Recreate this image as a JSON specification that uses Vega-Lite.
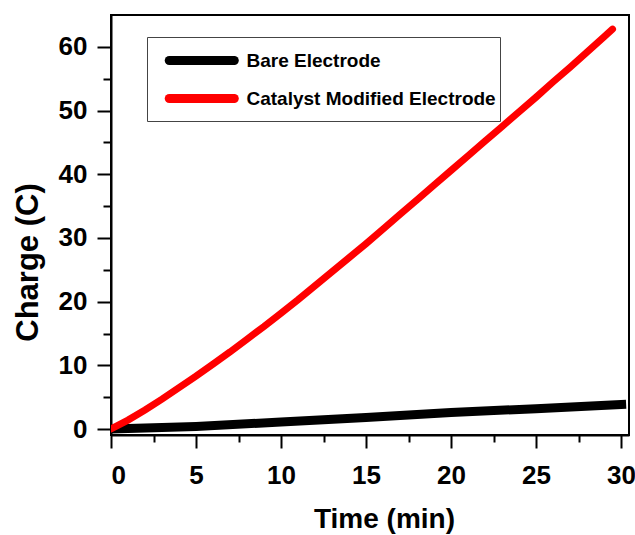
{
  "$schema": "https://vega.github.io/schema/vega-lite/v6.json",
  "autosize": {"type": "none"},
  "width": 518,
  "height": 420,
  "padding": {"left": 111, "top": 15, "right": 6, "bottom": 100},
  "background": "white",
  "config": {
    "font": "Liberation Sans",
    "view": {"stroke": "black", "strokeWidth": 2},
    "axis": {"grid": false, "domainColor": "black", "domainWidth": 2, "tickColor": "black", "tickWidth": 2, "labelColor": "black", "titleColor": "black", "labelFont": "Liberation Sans", "titleFont": "Liberation Sans", "labelFontWeight": "bold", "titleFontWeight": "bold", "labelFontSize": 26}
  },
  "data": {"values": [
    {"t": 0, "q": 0, "s": "Catalyst Modified Electrode"},
    {"t": 1, "q": 1.4, "s": "Catalyst Modified Electrode"},
    {"t": 2, "q": 3.0, "s": "Catalyst Modified Electrode"},
    {"t": 3, "q": 4.7, "s": "Catalyst Modified Electrode"},
    {"t": 4, "q": 6.5, "s": "Catalyst Modified Electrode"},
    {"t": 5, "q": 8.3, "s": "Catalyst Modified Electrode"},
    {"t": 6, "q": 10.2, "s": "Catalyst Modified Electrode"},
    {"t": 7, "q": 12.1, "s": "Catalyst Modified Electrode"},
    {"t": 8, "q": 14.1, "s": "Catalyst Modified Electrode"},
    {"t": 9, "q": 16.1, "s": "Catalyst Modified Electrode"},
    {"t": 10, "q": 18.2, "s": "Catalyst Modified Electrode"},
    {"t": 11, "q": 20.3, "s": "Catalyst Modified Electrode"},
    {"t": 12, "q": 22.5, "s": "Catalyst Modified Electrode"},
    {"t": 13, "q": 24.7, "s": "Catalyst Modified Electrode"},
    {"t": 14, "q": 26.9, "s": "Catalyst Modified Electrode"},
    {"t": 15, "q": 29.1, "s": "Catalyst Modified Electrode"},
    {"t": 16, "q": 31.4, "s": "Catalyst Modified Electrode"},
    {"t": 17, "q": 33.7, "s": "Catalyst Modified Electrode"},
    {"t": 18, "q": 36.0, "s": "Catalyst Modified Electrode"},
    {"t": 19, "q": 38.3, "s": "Catalyst Modified Electrode"},
    {"t": 20, "q": 40.6, "s": "Catalyst Modified Electrode"},
    {"t": 21, "q": 42.9, "s": "Catalyst Modified Electrode"},
    {"t": 22, "q": 45.2, "s": "Catalyst Modified Electrode"},
    {"t": 23, "q": 47.5, "s": "Catalyst Modified Electrode"},
    {"t": 24, "q": 49.8, "s": "Catalyst Modified Electrode"},
    {"t": 25, "q": 52.1, "s": "Catalyst Modified Electrode"},
    {"t": 26, "q": 54.5, "s": "Catalyst Modified Electrode"},
    {"t": 27, "q": 56.8, "s": "Catalyst Modified Electrode"},
    {"t": 28, "q": 59.2, "s": "Catalyst Modified Electrode"},
    {"t": 29, "q": 61.6, "s": "Catalyst Modified Electrode"},
    {"t": 29.5, "q": 62.8, "s": "Catalyst Modified Electrode"},
    {"t": 0, "q": 0, "s": "Bare Electrode"},
    {"t": 2, "q": 0.15, "s": "Bare Electrode"},
    {"t": 5, "q": 0.4, "s": "Bare Electrode"},
    {"t": 10, "q": 1.1, "s": "Bare Electrode"},
    {"t": 15, "q": 1.8, "s": "Bare Electrode"},
    {"t": 20, "q": 2.6, "s": "Bare Electrode"},
    {"t": 25, "q": 3.2, "s": "Bare Electrode"},
    {"t": 30.3, "q": 3.9, "s": "Bare Electrode"}
  ]},
  "layer": [
    {
      "mark": {"type": "line", "strokeCap": "butt", "strokeWidth": 9, "clip": true},
      "transform": [{"filter": "datum.s === 'Bare Electrode'"}],
      "encoding": {
        "x": {"field": "t", "type": "quantitative", "scale": {"domain": [0, 30.47], "nice": false, "zero": false},
          "axis": {"orient": "bottom", "offset": 0, "values": [0, 5, 10, 15, 20, 25, 30], "tickSize": 13, "labelPadding": 14, "title": "Time (min)", "titleFontSize": 28, "titleX": 273, "titleY": 92, "titleBaseline": "alphabetic", "titleAnchor": "middle", "titleAlign": "center"}},
        "y": {"field": "q", "type": "quantitative", "scale": {"domain": [-0.94, 65.02], "nice": false, "zero": false},
          "axis": {"orient": "left", "offset": 0, "values": [0, 10, 20, 30, 40, 50, 60], "tickSize": 14, "labelPadding": 10, "title": "Charge (C)", "titleFontSize": 31, "titleX": -74, "titleY": 247, "titleAngle": -90, "titleBaseline": "alphabetic", "titleAlign": "center"}},
        "color": {"field": "s", "type": "nominal",
          "scale": {"domain": ["Bare Electrode", "Catalyst Modified Electrode"], "range": ["#000000", "#ff0000"]},
          "legend": {"title": null, "orient": "none", "legendX": 36, "legendY": 22, "strokeColor": "#444444", "fillColor": "white", "padding": 4, "symbolType": "M-1,0H3.41", "symbolSize": 870, "symbolStrokeWidth": 9, "symbolOffset": 13.5, "labelFontSize": 19, "labelFont": "Liberation Sans", "labelFontWeight": "bold", "labelColor": "black", "labelOffset": 43, "labelLimit": 0, "rowPadding": 0,
            "encode": {"symbols": {"update": {"strokeCap": {"value": "round"}}}}}}
      }
    },
    {
      "mark": {"type": "line", "strokeCap": "round", "strokeWidth": 7, "clip": true},
      "transform": [{"filter": "datum.s === 'Catalyst Modified Electrode'"}],
      "encoding": {
        "x": {"field": "t", "type": "quantitative",
          "axis": {"orient": "bottom", "offset": 0, "values": [2.5, 7.5, 12.5, 17.5, 22.5, 27.5], "tickSize": 7, "labels": false, "domain": false, "title": null}},
        "y": {"field": "q", "type": "quantitative",
          "axis": {"orient": "left", "offset": 0, "values": [5, 15, 25, 35, 45, 55], "tickSize": 8, "labels": false, "domain": false, "title": null}},
        "color": {"field": "s", "type": "nominal"}
      }
    }
  ],
  "resolve": {"scale": {"x": "shared", "y": "shared"}, "axis": {"x": "independent", "y": "independent"}}
}
